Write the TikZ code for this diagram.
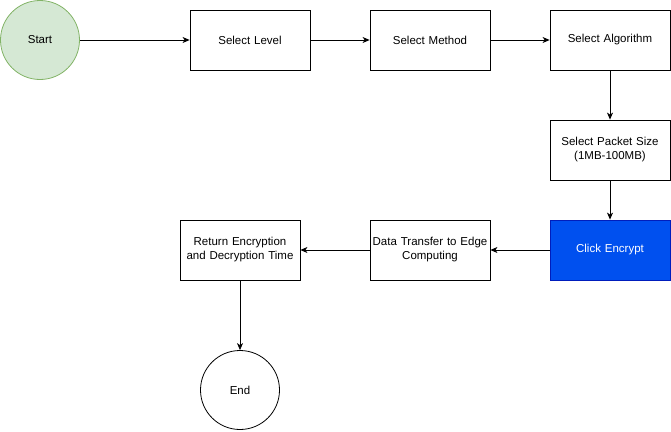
\documentclass[tikz,border=0pt]{standalone}
\usepackage{fontspec}
\setmainfont{Liberation Sans}
\usetikzlibrary{arrows.meta}
\definecolor{startfill}{HTML}{D5E8D4}
\definecolor{startdraw}{HTML}{82B366}
\definecolor{bluefill}{HTML}{0050EF}
\definecolor{bluedraw}{HTML}{001DBC}
\begin{document}
\begin{tikzpicture}[x=1pt,y=-1pt,
  every node/.style={font=\fontsize{11.5}{14}\selectfont},
  stepbox/.style={draw=black, line width=0.8pt, minimum width=120pt, minimum height=60pt, inner sep=1pt, align=center, text width=118pt},
  termnode/.style={circle, draw=black, line width=0.8pt, minimum size=79pt, inner sep=0pt},
  conn/.style={-{Stealth[length=7pt,width=6pt,inset=2pt]}, line width=0.8pt}]
\useasboundingbox (0,0) rectangle (671,431);
\node[termnode, fill=startfill, draw=startdraw] (start) at (40,40) {Start};
\node[stepbox] (level) at (250,40) {Select Level};
\node[stepbox] (method) at (430,40) {Select Method};
\node[stepbox] (algo) at (610,40) {Select Algorithm};
\node[stepbox] (packet) at (610,150) {Select Packet Size\\(1MB-100MB)};
\node[stepbox, fill=bluefill, draw=bluedraw, text=white] (encrypt) at (610,250) {Click Encrypt};
\node[stepbox] (transfer) at (430,250) {Data Transfer to Edge\\Computing};
\node[stepbox] (ret) at (240,250) {Return Encryption\\and Decryption Time};
\node[termnode] (end) at (240,390) {End};
\draw[conn] (start) -- (level);
\draw[conn] (level) -- (method);
\draw[conn] (method) -- (algo);
\draw[conn] (algo) -- (packet);
\draw[conn] (packet) -- (encrypt);
\draw[conn] (encrypt) -- (transfer);
\draw[conn] (transfer) -- (ret);
\draw[conn] (ret) -- (end);
\end{tikzpicture}
\end{document}
